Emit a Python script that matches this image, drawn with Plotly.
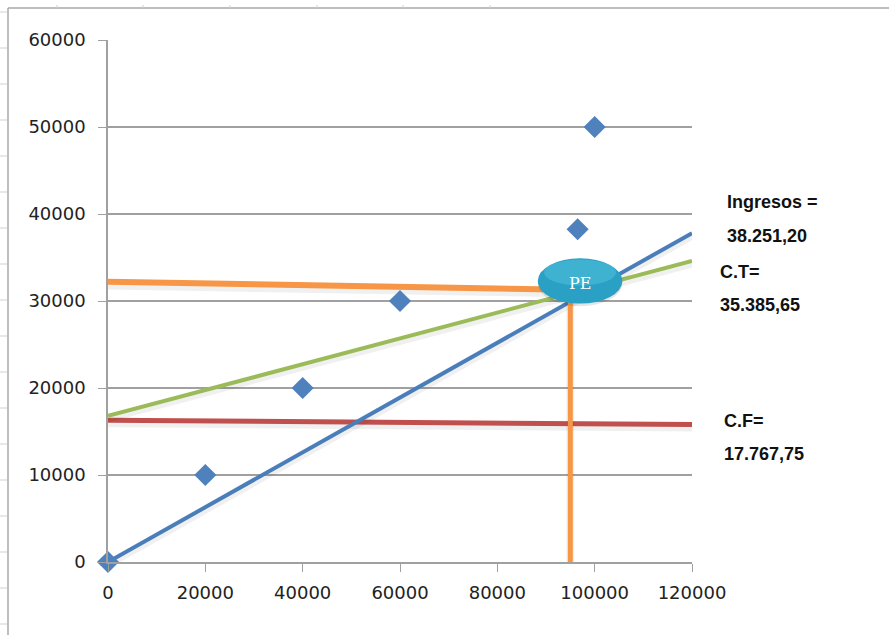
import plotly.graph_objects as go

# Break-even chart data
sales_x = [0, 20000, 40000, 60000, 96500, 100000]
sales_y = [0, 10000, 20000, 30000, 38251.20, 50000]

ingresos_x = [0, 120000]
ingresos_y = [0, 37800]

costo_total_x = [0, 120000]
costo_total_y = [16800, 34600]

costo_fijo_x = [0, 120000]
costo_fijo_y = [16300, 15800]

pe_level_x = [0, 95000]
pe_level_y = [32200, 31300]

pe_drop_x = [95000, 95000]
pe_drop_y = [31000, 0]

pe_center = (97000, 32300)

x_ticks = [0, 20000, 40000, 60000, 80000, 100000, 120000]
y_ticks = [0, 10000, 20000, 30000, 40000, 50000, 60000]

labels = [
    ("Ingresos =", 202),
    ("38.251,20", 236),
    ("C.T=", 272),
    ("35.385,65", 305),
    ("C.F=", 421),
    ("17.767,75", 454),
]
label_x = [725, 725, 718, 718, 722, 722]

BLUE = "#4a7ebb"
GREEN = "#9bbb59"
RED = "#c0504d"
ORANGE = "#f79646"

fig = go.Figure()


def add_line(x, y, color, width):
    fig.add_trace(go.Scatter(x=x, y=[v - 350 for v in y], mode="lines",
                             line=dict(color="rgba(0,0,0,0.06)", width=width + 3),
                             hoverinfo="skip", showlegend=False))
    fig.add_trace(go.Scatter(x=x, y=y, mode="lines",
                             line=dict(color=color, width=width),
                             showlegend=False))


add_line(costo_fijo_x, costo_fijo_y, RED, 5)
add_line(costo_total_x, costo_total_y, GREEN, 4)
add_line(ingresos_x, ingresos_y, BLUE, 4)
add_line(pe_level_x, pe_level_y, ORANGE, 6)
add_line(pe_drop_x, pe_drop_y, ORANGE, 5)

fig.add_trace(go.Scatter(x=sales_x, y=sales_y, mode="markers",
                         marker=dict(symbol="diamond", size=17, color="#4f81bd"),
                         cliponaxis=False, showlegend=False))

# Break-even ellipse
cx, cy = pe_center
rx, ry = 8700, 2600
fig.add_shape(type="circle", xref="x", yref="y",
              x0=cx - rx, x1=cx + rx, y0=cy - ry - 300, y1=cy + ry - 300,
              fillcolor="rgba(0,0,0,0.10)", line=dict(width=0))
fig.add_shape(type="circle", xref="x", yref="y",
              x0=cx - rx, x1=cx + rx, y0=cy - ry, y1=cy + ry,
              fillcolor="#29a0c4", line=dict(width=0))
fig.add_shape(type="circle", xref="x", yref="y",
              x0=cx - rx * 0.85, x1=cx + rx * 0.85, y0=cy - ry * 0.2, y1=cy + ry * 0.95,
              fillcolor="rgba(90,200,228,0.45)", line=dict(width=0))
fig.add_annotation(x=cx, y=cy - 250, text="PE", showarrow=False,
                   font=dict(family="DejaVu Serif", size=16, color="white"))

# Value labels on the right
for (txt, py), px in zip(labels, label_x):
    fig.add_annotation(x=(px - 108) / 584, y=1 - (py - 40) / 522,
                       xref="paper", yref="paper", text=txt, showarrow=False,
                       xanchor="left", yanchor="middle",
                       font=dict(family="Liberation Sans", size=18, color="#111111",
                                 weight="bold"))

# Sheet frame and cell separators
fig.add_shape(type="line", xref="paper", yref="paper",
              x0=-100 / 584, x1=2, y0=1 + 32 / 522, y1=1 + 32 / 522,
              line=dict(color="#a8a8a8", width=1.5))
fig.add_shape(type="line", xref="paper", yref="paper",
              x0=-100 / 584, x1=-100 / 584, y0=1 + 32 / 522, y1=-1,
              line=dict(color="#a8a8a8", width=1.5))
for px in [57, 143, 230, 317, 403, 490]:
    fig.add_shape(type="line", xref="paper", yref="paper",
                  x0=(px - 108) / 584, x1=(px - 108) / 584,
                  y0=1 + 35 / 522, y1=1 + 32 / 522,
                  line=dict(color="#d0d0d0", width=1))
for py in range(12, 635, 36):
    fig.add_shape(type="line", xref="paper", yref="paper",
                  x0=-108 / 584, x1=-101 / 584,
                  y0=1 - (py - 40) / 522, y1=1 - (py - 40) / 522,
                  line=dict(color="#d0d0d0", width=1))

fig.update_layout(
    width=889, height=635,
    margin=dict(l=108, r=197, t=40, b=73),
    paper_bgcolor="white", plot_bgcolor="white",
    font=dict(family="DejaVu Sans", size=18, color="#222222"),
    xaxis=dict(range=[0, 120000], tickvals=x_ticks, ticktext=[str(v) for v in x_ticks],
               showgrid=False, zeroline=False, showline=True, linecolor="#a0a0a0",
               linewidth=1.5, ticks="outside", ticklen=8, tickcolor="#a0a0a0",
               tickfont=dict(size=18), ticklabelstandoff=6),
    yaxis=dict(range=[0, 60000], tickvals=y_ticks, ticktext=[str(v) for v in y_ticks],
               showgrid=True, gridcolor="#a0a0a0", gridwidth=1.5, zeroline=False,
               showline=True, linecolor="#a0a0a0", linewidth=1.5,
               ticks="outside", ticklen=8, tickcolor="#a0a0a0",
               tickfont=dict(size=18), ticklabelstandoff=9),
)

fig.write_html("out.html")
